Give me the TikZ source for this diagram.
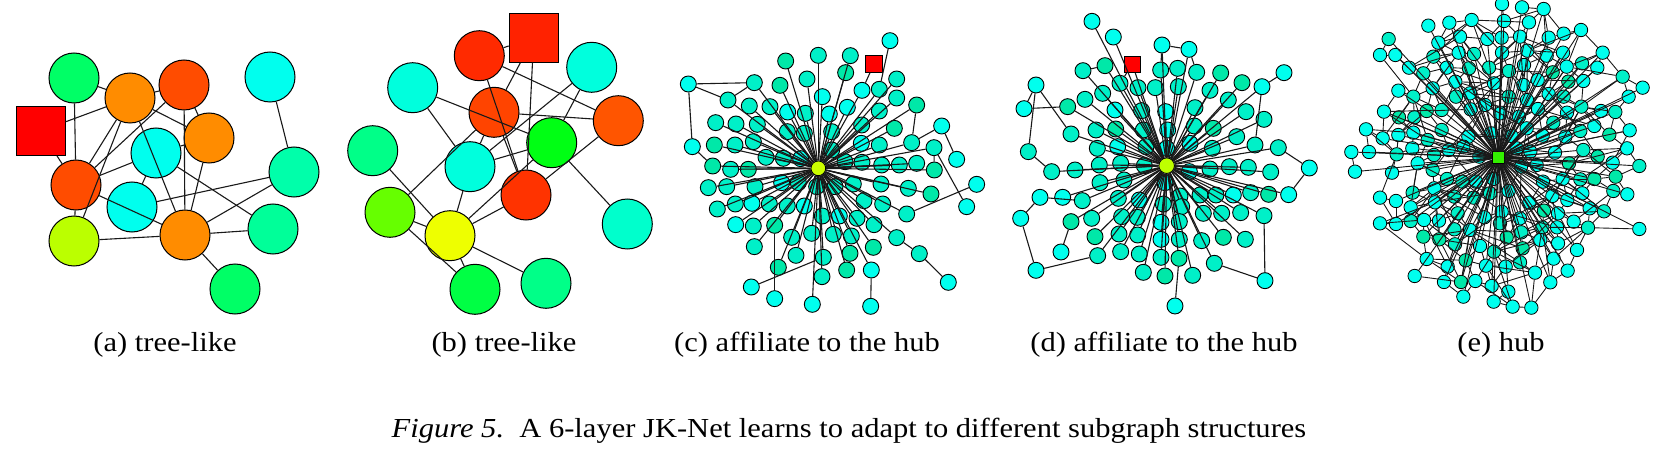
\documentclass[tikz,border=0pt]{standalone}
\usepackage{fontspec}
\setmainfont{Liberation Serif}
\usepackage{graphicx}
\definecolor{aGreen}{RGB}{0,255,102}
\definecolor{aOrange}{RGB}{255,140,0}
\definecolor{aRedOr}{RGB}{255,76,0}
\definecolor{aCyan}{RGB}{0,255,238}
\definecolor{aRed}{RGB}{255,0,0}
\definecolor{aSea}{RGB}{0,255,170}
\definecolor{aLime}{RGB}{187,255,0}
\definecolor{aSea2}{RGB}{0,255,153}
\definecolor{bRedA}{RGB}{255,42,0}
\definecolor{bSq}{RGB}{255,34,0}
\definecolor{bCyan}{RGB}{0,255,221}
\definecolor{bRedOr}{RGB}{255,68,0}
\definecolor{bOr}{RGB}{255,85,0}
\definecolor{bSea}{RGB}{0,255,136}
\definecolor{bGreen}{RGB}{0,255,20}
\definecolor{bRedB}{RGB}{255,51,0}
\definecolor{bLime}{RGB}{102,255,0}
\definecolor{bYel}{RGB}{238,255,0}
\definecolor{bTeal}{RGB}{0,255,204}
\definecolor{bGrB}{RGB}{0,255,68}
\definecolor{k1}{RGB}{0,255,238}
\definecolor{k2}{RGB}{0,240,200}
\definecolor{k3}{RGB}{0,232,168}
\definecolor{hubC}{RGB}{204,255,0}
\definecolor{hubD}{RGB}{190,255,0}
\definecolor{hubE}{RGB}{51,238,0}
\begin{document}
\begin{tikzpicture}[x=0.5pt,y=-0.5pt,
  big/.style={circle,draw=black,line width=0.5pt,inner sep=0pt,minimum size=25pt},
  bigsq/.style={rectangle,draw=black,line width=0.5pt,inner sep=0pt,minimum size=24.5pt},
  sm/.style={circle,draw=black,line width=0.45pt,inner sep=0pt,minimum size=8pt},
  tn/.style={circle,draw=black,line width=0.4pt,inner sep=0pt,minimum size=6.7pt},
  smsq/.style={rectangle,draw=black,line width=0.45pt,inner sep=0pt,minimum size=8.3pt},
  ed/.style={draw=black!90,line width=0.55pt},
  edt/.style={draw=black!90,line width=0.45pt},
  lab/.style={anchor=base,inner sep=0pt,font=\fontsize{13.75}{16}\selectfont}]
\useasboundingbox (0,0) rectangle (1672,449);

% ---------------- panel (a)
\node[big,fill=aGreen]  (a1) at (74,78) {};
\node[big,fill=aOrange] (a2) at (130,98) {};
\node[big,fill=aRedOr]  (a3) at (184,85) {};
\node[big,fill=aCyan]   (a4) at (270,77) {};
\node[bigsq,fill=aRed]  (asq) at (40.7,131) {};
\node[big,fill=aOrange] (a5) at (209,138) {};
\node[big,fill=aCyan]   (a6) at (156,153) {};
\node[big,fill=aRedOr]  (a7) at (76,185) {};
\node[big,fill=aCyan]   (a8) at (132,207) {};
\node[big,fill=aSea]    (a9) at (294,172) {};
\node[big,fill=aLime]   (a10) at (74,241) {};
\node[big,fill=aOrange] (a11) at (185,235) {};
\node[big,fill=aSea2]   (a12) at (273,229) {};
\node[big,fill=aGreen]  (a13) at (235,289) {};
\foreach \u/\v in {a1/a2,a2/a3,a1/a7,a7/a10,asq/a2,asq/a7,a2/a7,a2/a10,a3/a7,a2/a5,a2/a11,
  a3/a11,a3/a5,a5/a6,a5/a11,a6/a7,a6/a8,a6/a12,a7/a11,a8/a9,a9/a11,a9/a4,a10/a11,a11/a12,a11/a13}
  \draw[ed] (\u) -- (\v);

% ---------------- panel (b)
\node[big,fill=bRedA]  (b1) at (479.3,55.7) {};
\node[bigsq,fill=bSq]  (bsq) at (533.7,37.7) {};
\node[big,fill=bCyan]  (b2) at (412.7,87.7) {};
\node[big,fill=bCyan]  (b3) at (591.7,67.3) {};
\node[big,fill=bRedOr] (b4) at (494,112.3) {};
\node[big,fill=bOr]    (b5) at (618.3,120.7) {};
\node[big,fill=bSea]   (b6) at (372.7,150.7) {};
\node[big,fill=bGreen] (b7) at (551.7,142.7) {};
\node[big,fill=bCyan]  (b8) at (470,166.7) {};
\node[big,fill=bRedB]  (b9) at (526,195) {};
\node[big,fill=bLime]  (b10) at (390,212.3) {};
\node[big,fill=bYel]   (b11) at (450,235.7) {};
\node[big,fill=bTeal]  (b12) at (627.3,224) {};
\node[big,fill=bGrB]   (b13) at (475,289.3) {};
\node[big,fill=bSea]   (b14) at (546,283.3) {};
\foreach \u/\v in {b1/bsq,b1/b5,b1/b9,b4/b9,bsq/b4,bsq/b9,b2/b7,b2/b8,b3/b8,b3/b7,b4/b5,b4/b10,
  b4/b8,b7/b8,b7/b12,b7/b11,b11/b9,b5/b9,b6/b11,b8/b11,b10/b11,b10/b13,b11/b13,b11/b14}
  \draw[ed] (\u) -- (\v);

% ---------------- panel (c)
\begin{scope}[shift={(660,30)},x=0.5pt/3,y=-0.5pt/3]
\foreach \x/\y/\c [count=\i] in {690/32/k1,377/93/k3,475/76/k2,571/77/k2,557/128/k3,85/162/k1,
 283/158/k2,360/166/k3,441/147/k2,606/181/k1,658/178/k2,710/147/k2,204/210/k2,268/228/k2,
 330/230/k2,487/200/k1,710/204/k2,770/225/k3,383/246/k1,436/250/k2,508/252/k1,562/232/k1,
 658/243/k2,167/278/k2,228/282/k2,292/283/k2,382/305/k2,433/310/k2,515/305/k2,605/285/k2,
 703/295/k3,845/288/k1,97/350/k1,163/345/k3,225/345/k2,280/335/k2,604/340/k1,658/345/k2,
 755/338/k2,822/353/k2,318/382/k2,370/385/k2,422/386/k1,515/360/k2,555/395/k2,606/397/k2,
 665/405/k2,718/405/k2,770/400/k2,890/388/k1,158/408/k3,212/418/k2,265/418/k3,823/420/k3,
 145/473/k2,200/470/k2,285/470/k2,365/458/k1,415/458/k2,470/470/k2,525/470/k2,580/462/k2,
 663/462/k2,745/475/k2,950/463/k1,813/492/k3,172/537/k2,226/522/k2,276/520/k1,328/522/k2,
 382/528/k2,433/528/k1,612/512/k2,668/522/k2,740/552/k2,920/530/k1,227/584/k1,280/588/k2,
 344/586/k3,487/558/k2,538/558/k1,591/565/k2,642/584/k2,283/650/k2,395/622/k2,455/610/k2,
 520/613/k2,574/618/k2,710/623/k2,408/676/k2,490/682/k2,570/670/k3,640/652/k3,778/671/k2,
 355/712/k3,486/740/k2,560/720/k3,634/720/k1,274/771/k1,865/757/k1,344/806/k1,457/823/k1,
 632/829/k1}
  \node[sm,fill=\c] (c\i) at (\x,\y) {};
\node[smsq,fill=aRed] (csq) at (642,102) {};
\node[circle,draw=black,line width=0.45pt,inner sep=0pt,minimum size=7.4pt,fill=hubC] (ch) at (475,415) {};
\foreach \i in {2,3,4,5,7,8,9,10,11,12,13,14,15,16,17,18,19,20,21,22,23,24,25,26,27,28,29,30,31,
 34,35,36,37,38,39,40,41,42,43,44,45,46,47,48,49,51,52,53,54,55,56,57,58,59,60,61,62,63,64,66,67,
 68,69,70,71,72,73,74,75,77,78,79,80,81,82,83,84,85,86,87,88,89,90,91,92,93,95,96,97,98,102}
  \draw[ed] (ch) -- (c\i);
\foreach \u/\v in {6/7,6/13,13/7,6/33,33/51,1/11,32/50,32/39,40/76,65/75,94/100,89/94,98/103,
  99/91,101/79,18/39,54/40}
  \draw[ed] (c\u) -- (c\v);
\draw[ed] (csq) -- (c10);
\end{scope}

% ---------------- panel (d)
\begin{scope}[shift={(1000,0)},x=0.5pt/3,y=-0.5pt/3]
\foreach \x/\y/\c [count=\i] in {276/64/k1,340/111/k1,486/135/k1,567/148/k1,249/212/k2,315/197/k3,
 482/210/k2,533/205/k2,590/217/k2,662/219/k3,852/218/k1,108/255/k1,360/250/k2,414/263/k2,
 466/263/k2,535/260/k2,630/271/k2,726/248/k3,786/260/k1,72/326/k1,203/320/k3,255/298/k2,
 308/280/k2,345/330/k1,425/332/k2,497/335/k1,585/323/k2,685/300/k2,738/335/k2,792/358/k2,
 213/402/k2,288/390/k2,347/387/k3,430/390/k2,503/390/k1,583/378/k2,640/385/k3,710/410/k2,
 765/435/k2,835/443/k2,85/455/k2,292/445/k2,353/440/k1,438/440/k2,500/445/k1,570/430/k1,
 637/445/k2,155/515/k2,225/510/k2,298/495/k2,362/490/k2,433/497/k2,568/515/k1,630/507/k2,
 688/500/k2,745/502/k2,812/516/k2,928/504/k1,300/548/k2,372/540/k2,495/548/k1,120/592/k1,
 188/592/k1,247/602/k2,355/595/k2,418/600/k1,540/588/k2,600/585/k2,648/585/k2,700/585/k1,
 752/578/k2,806/583/k3,866/584/k1,62/655/k1,213/665/k3,275/655/k2,365/650/k2,412/652/k2,
 490/612/k2,545/620/k2,610/640/k2,665/640/k2,722/638/k2,792/647/k2,285/710/k3,357/702/k2,
 413/705/k2,483/667/k1,538/665/k2,483/718/k1,538/718/k2,605/722/k2,670/712/k3,736/718/k2,
 183/756/k1,293/767/k2,362/755/k2,418/762/k2,483/772/k2,537/775/k3,643/790/k2,108/811/k1,
 430/817/k2,495/828/k3,578/826/k2,795/842/k1,525/918/k1}
  \node[sm,fill=\c] (d\i) at (\x,\y) {};
\node[smsq,fill=aRed] (dsq) at (397,193) {};
\node[circle,draw=black,line width=0.45pt,inner sep=0pt,minimum size=7.8pt,fill=hubD] (dh) at (500,497) {};
\foreach \i in {1,2,3,4,5,6,7,8,9,10,13,14,15,16,17,18,19,21,22,23,24,25,26,27,28,29,30,31,32,
 33,34,35,36,37,38,39,40,42,43,44,45,46,47,48,49,50,51,52,53,54,55,56,57,59,60,61,63,64,65,66,
 67,68,69,70,71,72,73,75,76,77,78,79,80,81,82,83,84,85,86,87,88,89,90,91,92,93,94,96,97,98,99,
 100,101,103,104,105}
  \draw[ed] (dh) -- (d\i);
\foreach \u/\v in {3/4,3/7,4/9,12/20,12/31,12/41,20/21,41/48,62/64,74/62,74/102,102/96,95/75,
  40/58,58/73,11/19,19/39,106/84,106/101,107/100,5/6}
  \draw[ed] (d\u) -- (d\v);
\draw[ed] (dsq) -- (dh);
\draw[ed] (dsq) -- (d13);
\end{scope}

% ---------------- panel (e)
\begin{scope}[shift={(1320,0)},x=0.5pt/3,y=-0.5pt/3]
\foreach \x/\y/\c [count=\i] in {546/12/k1,606/22/k1,671/27/k1,325/77/k1,388/68/k1,455/60/k1,
 552/63/k1,627/67/k1,783/90/k1,731/101/k1,206/117/k2,420/110/k1,502/117/k1,545/113/k1,600/110/k1,
 686/113/k1,355/128/k1,180/165/k1,226/165/k1,340/170/k2,416/158/k1,462/162/k2,546/158/k1,
 622/152/k1,680/167/k1,729/158/k1,848/158/k1,267/203/k1,310/220/k2,380/203/k1,447/205/k2,
 507/203/k2,567/213/k2,612/195/k1,698/217/k3,740/200/k1,786/190/k2,832/203/k1,406/245/k1,
 522/250/k1,610/255/k1,653/240/k1,745/245/k3,790/243/k1,908/230/k2,968/263/k1,235/272/k1,
 280/290/k2,338/265/k1,408/290/k2,450/280/k1,566/290/k2,621/300/k1,686/282/k1,731/290/k2,
 926/290/k1,192/335/k1,237/352/k3,283/352/k2,320/333/k3,365/330/k2,452/328/k1,495/315/k1,
 541/340/k1,597/350/k1,654/327/k1,700/368/k2,741/338/k1,784/320/k2,843/333/k1,886/336/k2,
 138/388/k1,188/415/k1,235/405/k1,280/398/k1,323/420/k2,365/390/k2,445/410/k1,513/400/k1,
 575/408/k1,620/385/k1,668/407/k1,736/410/k1,781/393/k2,823/378/k1,868/404/k3,929/391/k1,
 94/456/k1,147/456/k1,230/463/k2,277/445/k1,342/465/k2,386/450/k1,430/440/k1,478/470/k1,
 590/445/k1,631/455/k1,705/458/k1,790/450/k2,833/470/k3,878/488/k1,921/445/k1,105/515/k1,
 216/518/k1,293/490/k1,338/510/k2,381/537/k2,427/545/k2,468/545/k1,520/537/k1,603/500/k1,
 650/495/k1,669/545/k1,728/537/k1,781/538/k2,823/537/k3,887/530/k3,747/490/k3,958/498/k2,
 180/593/k1,228/603/k1,278/578/k2,343/565/k1,403/590/k2,461/593/k2,510/580/k2,566/573/k1,
 628/608/k1,697/588/k1,742/600/k1,787/580/k1,880/573/k2,922/583/k1,272/622/k1,345/607/k1,
 413/640/k2,493/652/k1,545/635/k1,600/655/k1,672/632/k3,714/640/k1,809/625/k1,852/634/k2,
 180/670/k1,228/672/k1,272/663/k2,312/660/k1,357/662/k1,403/688/k2,450/690/k1,540/670/k2,
 604/697/k2,667/682/k2,711/682/k1,761/665/k1,804/683/k2,958/687/k1,310/710/k3,358/718/k3,
 405/733/k2,480/738/k1,522/755/k2,560/712/k3,608/745/k3,661/720/k1,714/730/k1,771/750/k1,
 320/777/k1,383/800/k1,437/781/k3,498/797/k1,557/800/k1,600/787/k2,645/818/k1,701/776/k1,
 743/812/k1,284/828/k1,372/846/k1,423/846/k3,466/843/k1,515/858/k1,565/875/k1,691/847/k1,
 430/890/k1,521/905/k1,578/920/k1,634/923/k1}
  \node[tn,fill=\c] (e\i) at (\x,\y) {};
\node[rectangle,draw=black,line width=0.45pt,inner sep=0pt,minimum size=6pt,fill=hubE] (eh) at (535,473) {};
\foreach \i in {1,...,187}{
  \pgfmathtruncatemacro\keep{mod(\i,6)!=0}
  \ifnum\keep=1 \draw[edt] (eh) -- (e\i); \fi
}
\foreach \i in {1,...,186}{
  \foreach \k in {1,...,30}{
    \pgfmathtruncatemacro\j{\i+\k}
    \ifnum\j<188
      \pgfpointdiff{\pgfpointanchor{e\i}{center}}{\pgfpointanchor{e\j}{center}}
      \pgfgetlastxy{\dx}{\dy}
      \pgfmathtruncatemacro\dd{veclen(\dx,\dy)}
      \pgfmathtruncatemacro\pickA{(\dd<13)&&(mod(\i*7+\k*5,3)!=0)}
      \pgfmathtruncatemacro\pickB{(\dd>12)&&(\dd<30)&&(mod(\i*11+\k*3,9)==0)}
      \ifnum\pickA=1 \draw[edt] (e\i) -- (e\j); \fi
      \ifnum\pickB=1 \draw[edt] (e\i) -- (e\j); \fi
    \fi
  }
}
\end{scope}

% ---------------- labels
\node[lab] (la) at (165,351.7) {\scalebox{1.11}[1]{(a) tree-like}};
\node[lab] (lb) at (504,351.7) {\scalebox{1.11}[1]{(b) tree-like}};
\node[lab] (lc) at (807,351.7) {\scalebox{1.11}[1]{(c) affiliate to the hub}};
\node[lab] (ld) at (1164,351.7) {\scalebox{1.11}[1]{(d) affiliate to the hub}};
\node[lab] (le) at (1501,351.7) {\scalebox{1.11}[1]{(e) hub}};
\node[lab] (cap) at (849,437) {\scalebox{1.11}[1]{\textit{Figure 5.}\ \ A 6-layer JK-Net learns to adapt to different subgraph structures}};
\end{tikzpicture}
\end{document}
